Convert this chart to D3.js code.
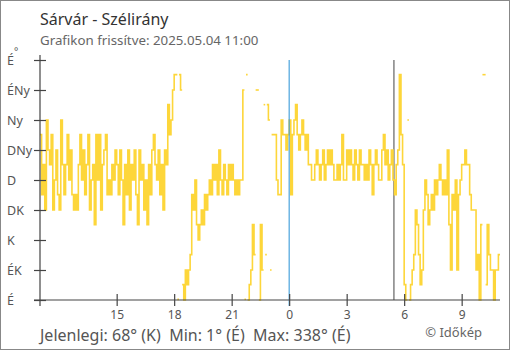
<!DOCTYPE html>
<html>
<head>
<meta charset="utf-8">
<script src="https://cdn.jsdelivr.net/npm/d3@7"></script>
<style>
  html, body { margin: 0; padding: 0; background: #fff; }
  svg text { font-family: "Noto Sans", "Open Sans", sans-serif; }
</style>
</head>
<body>
<svg id="chart" width="510" height="350"></svg>
<script>
// ---- data ----
const titleText = "Sárvár - Szélirány";
const subtitleText = "Grafikon frissítve: 2025.05.04 11:00";
const footerText = "Jelenlegi: 68° (K)  Min: 1° (É)  Max: 338° (É)";
const creditText = "© Időkép";

const startTime = new Date(2025, 4, 3, 11, 0);   // first sample
const endTime = new Date(2025, 4, 4, 11, 0);
const stepMinutes = 5;

// wind direction (degrees), one row per hour, 5-minute samples
const windDir = [
  248, 158, 203, 135, 270, 225, 203, 248, 135, 180, 225, 158,
  135, 270, 203, 158, 203, 248, 180, 225, 158, 135, 158, 135,
  203, 248, 180, 225, 158, 203, 248, 135, 180, 203, 113, 248,
  180, 248, 135, 203, 225, 248, 158, 180, 158, 203, 180, 225,
  203, 158, 225, 180, 113, 203, 158, 225, 135, 203, 180, 225,
  158, 113, 225, 180, 203, 135, 180, 113, 203, 158, 225, 248,
  203, 180, 225, 158, 203, 135, 225, 203, 293, 248, 270, 315,
  338, 338, 1, 338, 315, 23, 0, 45, 23, 45, 68, 158,
  135, 180, 113, 90, 113, 135, 113, 158, 135, 158, 180, 158,
  203, 180, 203, 158, 225, 180, 158, 203, 180, 158, 203, 180,
  203, 180, 158, 180, 158, 180, 180, 315, 1, 338, 0, 23,
  45, 113, 68, 315, 315, 0, 113, 45, 293, 68, 293, 270,
  45, 248, 248, 248, 180, 158, 158, 270, 248, 248, 225, 248,
  270, 158, 248, 270, 293, 248, 225, 248, 270, 248, 225, 248,
  203, 203, 180, 180, 203, 225, 203, 180, 203, 225, 180, 203,
  225, 203, 225, 203, 180, 180, 203, 180, 203, 248, 180, 180,
  225, 203, 225, 203, 180, 225, 203, 180, 225, 203, 203, 180,
  203, 180, 225, 203, 158, 203, 225, 203, 180, 180, 225, 248,
  203, 225, 180, 203, 225, 180, 158, 203, 225, 338, 248, 203,
  23, 0, 270, 0, 23, 45, 68, 135, 113, 68, 23, 45,
  135, 180, 158, 113, 135, 158, 135, 180, 158, 180, 203, 180,
  158, 180, 158, 225, 113, 45, 158, 135, 180, 45, 158, 180,
  203, 203, 225, 203, 203, 158, 135, 135, 135, 45, 68, 0,
  113, 338, 338, 23, 113, 68, 45, 45, 0, 45, 45, 68
];

const xTickTimes = [
  new Date(2025, 4, 3, 15), new Date(2025, 4, 3, 18), new Date(2025, 4, 3, 21),
  new Date(2025, 4, 4, 0), new Date(2025, 4, 4, 3), new Date(2025, 4, 4, 6),
  new Date(2025, 4, 4, 9)
];
const dirTicks = [0, 45, 90, 135, 180, 225, 270, 315, 360];
const dirLabels = ["É", "ÉK", "K", "DK", "D", "DNy", "Ny", "ÉNy", "É"];
const midnightTime = new Date(2025, 4, 4, 0, 0);
const sunriseTime = new Date(2025, 4, 4, 5, 28);

// ---- drawing ----
const svg = d3.select("#chart");
const W = 510, H = 350;
const plot = { left: 40, right: 500, top: 60, bottom: 300 };

svg.append("rect").attr("x", 0.5).attr("y", 0.5).attr("width", W - 1).attr("height", H - 1)
  .attr("fill", "#fff").attr("stroke", "#888");

const x = d3.scaleTime().domain([startTime, endTime]).range([plot.left, plot.right]);
const y = d3.scaleLinear().domain([0, 360]).range([plot.bottom, plot.top]);

// titles
svg.append("text").attr("x", 40).attr("y", 25).attr("font-size", 16).attr("fill", "#333").text(titleText);
svg.append("text").attr("x", 40).attr("y", 45).attr("font-size", 13.3).attr("fill", "#666").text(subtitleText);

// marker lines
svg.append("line").attr("x1", x(sunriseTime)).attr("x2", x(sunriseTime))
  .attr("y1", plot.top).attr("y2", plot.bottom).attr("stroke", "#444").attr("stroke-width", 1);

// data series split at 360/0 wrap
const pts = windDir.map((v, i) => ({ t: d3.timeMinute.offset(startTime, i * stepMinutes), v }));
const segments = [];
let cur = [pts[0]];
for (let i = 1; i < pts.length; i++) {
  if (Math.abs(pts[i].v - pts[i - 1].v) > 180) {
    segments.push(cur);
    cur = [];
  }
  cur.push(pts[i]);
}
segments.push(cur);
segments.forEach(seg => {
  const last = seg[seg.length - 1];
  seg.push({ t: d3.timeMinute.offset(last.t, stepMinutes), v: last.v });
});
const line = d3.line().x(d => x(d.t)).y(d => y(d.v)).curve(d3.curveStepAfter);
svg.append("g").selectAll("path").data(segments).join("path")
  .attr("d", line).attr("fill", "none").attr("stroke", "#fdd63a").attr("stroke-width", 1.6);

// midnight line
svg.append("line").attr("x1", x(midnightTime)).attr("x2", x(midnightTime))
  .attr("y1", plot.top).attr("y2", plot.bottom + 6).attr("stroke", "#3a9ad9").attr("stroke-width", 1.1);

// axes
const axisColor = "#444";
const xAxis = d3.axisBottom(x).tickValues(xTickTimes).tickFormat(d3.timeFormat("%-H"))
  .tickSizeInner(6).tickSizeOuter(0);
const gx = svg.append("g").attr("transform", `translate(0,${plot.bottom})`).call(xAxis);
gx.select(".domain").remove();
gx.selectAll(".tick line").attr("y1", -6).attr("y2", 6).attr("stroke", axisColor).attr("stroke-width", 1.2);
gx.selectAll(".tick text").attr("y", 10).attr("font-size", 12).attr("fill", "#555").attr("font-family", "Noto Sans");

const yAxis = d3.axisLeft(y).tickValues(dirTicks).tickFormat((d, i) => dirLabels[i])
  .tickSizeInner(6).tickSizeOuter(0);
const gy = svg.append("g").attr("transform", `translate(${plot.left},0)`).call(yAxis);
gy.select(".domain").remove();
gy.selectAll(".tick line").attr("x1", -6).attr("x2", 6).attr("stroke", axisColor).attr("stroke-width", 1.2);
gy.selectAll(".tick text").attr("x", 7 - plot.left).attr("text-anchor", "start")
  .attr("font-size", 12.5).attr("fill", "#555").attr("font-family", "Noto Sans");

svg.append("line").attr("x1", plot.left - 6).attr("x2", plot.right).attr("y1", plot.bottom).attr("y2", plot.bottom)
  .attr("stroke", axisColor).attr("stroke-width", 1.2);
svg.append("line").attr("x1", plot.left).attr("x2", plot.left).attr("y1", plot.top - 5).attr("y2", plot.bottom + 6)
  .attr("stroke", axisColor).attr("stroke-width", 1.2);

svg.append("text").attr("x", 14).attr("y", 55).attr("font-size", 10).attr("fill", "#555").text("°");

// footer
svg.append("text").attr("x", 40).attr("y", 341).attr("font-size", 16).attr("fill", "#555")
  .style("white-space", "pre").text(footerText);
svg.append("text").attr("x", 482).attr("y", 337).attr("text-anchor", "end").attr("font-size", 13)
  .attr("fill", "#666").text(creditText);
</script>
</body>
</html>
